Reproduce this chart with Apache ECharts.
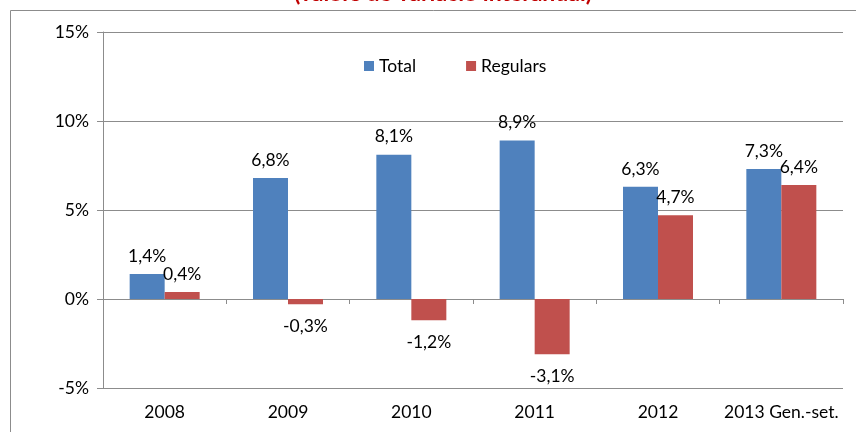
<!DOCTYPE html>
<html><head><meta charset="utf-8">
<script src="https://cdn.jsdelivr.net/npm/echarts@6/dist/echarts.min.js"></script>
<style>html,body{margin:0;padding:0;background:#fff}#c{width:856px;height:432px}</style>
</head><body><div id="c"></div>
<script>
const categories = ['2008','2009','2010','2011','2012','2013 Gen.-set.'];
const totalValues = [1.4, 6.8, 8.1, 8.9, 6.3, 7.3];
const regularsValues = [0.4, -0.3, -1.2, -3.1, 4.7, 6.4];
const seriesNames = ['Total','Regulars'];
const titleText = '(valors de variació interanual)';
const FONT = 'Lato';
const FS = 17.5;
const fmt = v => v.toFixed(1).replace('.', ',') + '%';

const chart = echarts.init(document.getElementById('c'), null, {renderer:'canvas'});
chart.setOption({
  animation:false,
  backgroundColor:'#fff',
  textStyle:{fontFamily:FONT},
  title:{text:titleText,left:438,textAlign:'center',top:-23,textStyle:{color:'#C00000',fontSize:23,fontWeight:'bold',fontFamily:FONT}},
  graphic:[{type:'rect',shape:{x:10.5,y:10.5,width:900,height:500},style:{fill:'none',stroke:'#8c8c8c',lineWidth:1},z:-1}],
  legend:{data:seriesNames,top:52,left:359,itemWidth:10,itemHeight:10,itemGap:50,icon:'rect',
    textStyle:{fontSize:FS,color:'#000',fontFamily:FONT,padding:[0,0,0,0]}},
  grid:{left:103,right:13,top:32,bottom:44},
  xAxis:[{type:'category',data:categories,axisLine:{show:false,onZero:false},axisTick:{show:false},
     axisLabel:{fontSize:FS,color:'#000',margin:15,interval:0,fontFamily:FONT}},
   {type:'category',data:categories,position:'bottom',axisLine:{show:true,onZero:true,lineStyle:{color:'#8c8c8c'}},
     axisTick:{show:true,length:5,lineStyle:{color:'#8c8c8c'}},axisLabel:{show:false}}],
  yAxis:{type:'value',min:-5,max:15,interval:5,
    axisLine:{show:true,lineStyle:{color:'#8c8c8c'}},axisTick:{show:true,length:6,lineStyle:{color:'#8c8c8c'}},
    splitLine:{lineStyle:{color:'#8c8c8c'}},
    axisLabel:{formatter:v=>v+'%',fontSize:FS,color:'#000',margin:14,fontFamily:FONT}},
  series:[
    {name:seriesNames[0],type:'bar',data:totalValues,barWidth:35,barGap:'0%',itemStyle:{color:'#4F81BD'},
     label:{show:true,position:'top',distance:9,formatter:p=>fmt(p.value),fontSize:FS,color:'#000',fontFamily:FONT}},
    {name:seriesNames[1],type:'bar',data:regularsValues.map(v=>({value:v,label:v<0?{position:'bottom',distance:13}:{}})),
     barWidth:35,barGap:'0%',itemStyle:{color:'#C0504D'},
     label:{show:true,fontSize:FS,color:'#000',fontFamily:FONT,formatter:p=>fmt(p.value),position:'top',distance:9}}
  ]
});
</script></body></html>
